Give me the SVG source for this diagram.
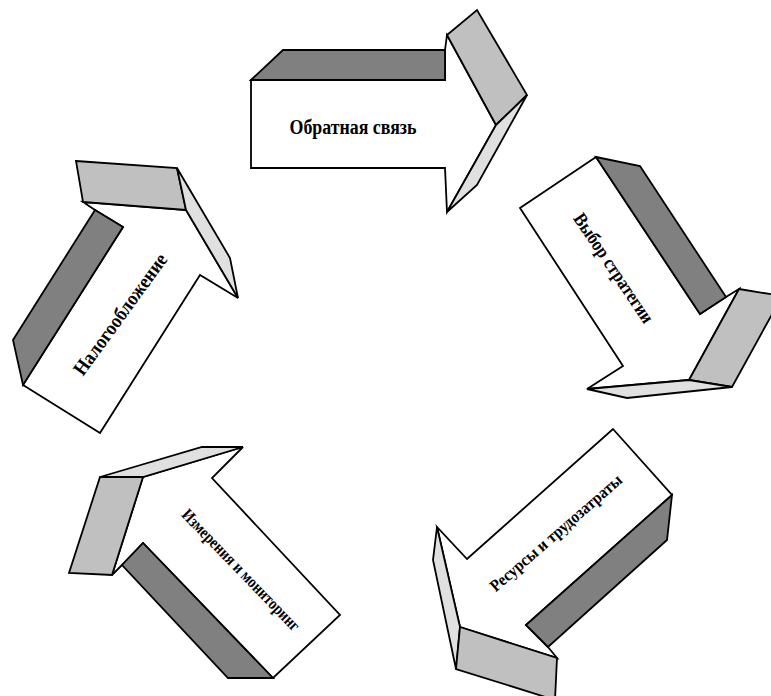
<svg xmlns="http://www.w3.org/2000/svg" width="771" height="696" viewBox="0 0 771 696">
<style>
.b{fill:#fff;stroke:#000;stroke-width:1.8;stroke-linejoin:miter}
.d{fill:#808080;stroke:#000;stroke-width:1.8}
.g{fill:#c0c0c0;stroke:#000;stroke-width:1.8}
.l{fill:#e0e0e0;stroke:#000;stroke-width:1.8}
.t{font-family:"Liberation Serif","Times New Roman",serif;font-weight:bold;fill:#000;text-anchor:middle;dominant-baseline:central}
</style>
<rect width="771" height="696" fill="#fff"/>
<g id="feedback">
<polygon class="b" points="251,80 445,80 445,50 447,35 496,125 447,212 445,168 251,168"/>
<polygon class="d" points="251,80 283,50 445,50 445,80"/>
<polygon class="g" points="447,35 477,10 527,95 496,125"/>
<polygon class="l" points="496,125 527,95 477,185 447,212"/>
<text class="t" x="353" y="127" font-size="20" textLength="127" lengthAdjust="spacingAndGlyphs">Обратная связь</text>
</g>
<g id="strategy">
<polygon class="b" points="520,208 596,157 700,314 726,297 739,289 689,380 587,389 623,366"/>
<polygon class="d" points="596,157 640,166 726,297 700,314"/>
<polygon class="g" points="739,289 782,296 732,387 689,380"/>
<polygon class="l" points="587,389 689,380 732,387 627,398"/>
<text class="t" transform="translate(614,268) rotate(56)" font-size="19" textLength="128" lengthAdjust="spacingAndGlyphs">Выбор стратегии</text>
</g>
<g id="resources">
<polygon class="b" points="613,429 672,495 526,625 548,647 557,658 460,627 437,527 467,559"/>
<polygon class="d" points="526,625 672,495 667,540 548,647"/>
<polygon class="l" points="437,527 460,627 456,669 433,560"/>
<polygon class="g" points="460,627 557,658 555,700 456,669"/>
<text class="t" transform="translate(556,533) rotate(-41)" font-size="17" textLength="169" lengthAdjust="spacingAndGlyphs">Ресурсы и трудозатраты</text>
</g>
<g id="monitoring">
<polygon class="b" points="243,447 212,478 340,615 273,678 143,543 122,565 112,575 143,477"/>
<polygon class="l" points="100,477 202,447 243,447 143,477"/>
<polygon class="g" points="100,477 143,477 112,575 69,573"/>
<polygon class="d" points="143,543 122,565 228,678 273,678"/>
<text class="t" transform="translate(241,570) rotate(46)" font-size="17" textLength="162" lengthAdjust="spacingAndGlyphs">Измерения и мониторинг</text>
</g>
<g id="taxation">
<polygon class="b" points="83,202 186,210 238,298 200,275 100,433 23,385 123,227 95,210"/>
<polygon class="g" points="76,161 177,168 186,210 83,202"/>
<polygon class="l" points="177,168 186,210 238,298 230,258"/>
<polygon class="d" points="95,210 123,227 23,385 13,340"/>
<text class="t" transform="translate(120,314) rotate(-54)" font-size="20" textLength="145" lengthAdjust="spacingAndGlyphs">Налогообложение</text>
</g>
<g id="connectors"></g>
</svg>
